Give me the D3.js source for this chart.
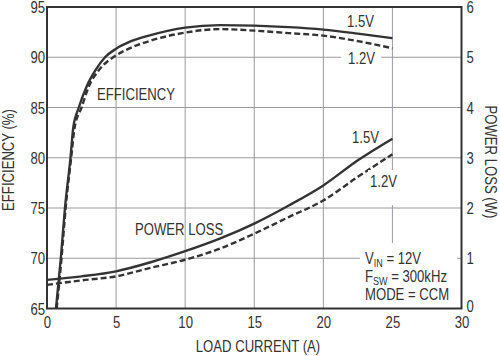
<!DOCTYPE html>
<html><head><meta charset="utf-8">
<script src="https://cdn.jsdelivr.net/npm/d3@7/dist/d3.min.js"></script>
<style>
body{margin:0;background:#fff;}
text{font-family:"Liberation Sans",Arial,sans-serif;fill:#333;}
</style></head>
<body><svg id="c" width="500" height="356"></svg>
<script>
const xTicks=[0,5,10,15,20,25,30];
const effTicks=[65,70,75,80,85,90,95];
const lossTicks=[0,1,2,3,4,5,6];
const eff15=[[0.65,65],[1.0,70],[1.3,75],[1.7,80],[1.9,83],[2.3,85],[2.9,87.2],[3.5,88.7],[4.2,90],[5,90.85],[6,91.55],[7.5,92.2],[10,92.95],[12.5,93.2],[15,93.15],[17.5,93.0],[20,92.75],[22.5,92.35],[25,91.9]];
const eff12=[[0.7,65],[1.05,70],[1.35,75],[1.75,80],[2.0,83],[2.5,85],[3.0,87],[3.8,88.8],[4.9,90.1],[6,90.9],[7.5,91.65],[10,92.45],[12.5,92.8],[15,92.65],[17.5,92.4],[20,92.15],[22.5,91.6],[25,90.9]];
const loss15=[[0,0.57],[2.5,0.64],[5,0.74],[7.5,0.92],[10,1.14],[12.5,1.39],[15,1.69],[17.5,2.05],[20,2.45],[22.5,2.95],[25,3.38]];
const loss12=[[0,0.47],[2.5,0.56],[5,0.64],[7.5,0.81],[10,0.97],[12.5,1.19],[15,1.49],[17.5,1.82],[20,2.15],[22.5,2.62],[25,3.07]];

const L=47,R=461.5,T=7,B=308.5;
const SX=0.82;
const svg=d3.select("#c");
const x=d3.scaleLinear().domain([0,30]).range([L,R]);
const yE=d3.scaleLinear().domain([65,95]).range([B,T]);
const yL=d3.scaleLinear().domain([0,6]).range([B,T]);
const col="#333";

const g=svg.append("g");
g.selectAll(".vx").data(xTicks.slice(1,-1)).join("line")
 .attr("x1",d=>x(d)).attr("x2",d=>x(d)).attr("y1",T).attr("y2",B)
 .attr("stroke","#9a9aa2").attr("stroke-width",1);
g.selectAll(".hy").data(effTicks.slice(1,-1)).join("line")
 .attr("x1",L).attr("x2",R).attr("y1",d=>yE(d)).attr("y2",d=>yE(d))
 .attr("stroke","#9a9a9a").attr("stroke-width",1);

svg.append("clipPath").attr("id","clip").append("rect").attr("x",L).attr("y",T).attr("width",R-L).attr("height",B-T);

const lineE=d3.line().x(d=>x(d[0])).y(d=>yE(d[1])).curve(d3.curveMonotoneX);
const lineL=d3.line().x(d=>x(d[0])).y(d=>yL(d[1])).curve(d3.curveMonotoneX);
const cg=svg.append("g").attr("clip-path","url(#clip)");
cg.append("path").attr("d",lineE(eff12)).attr("fill","none").attr("stroke",col).attr("stroke-width",2.4).attr("stroke-dasharray","6,3");
cg.append("path").attr("d",lineE(eff15)).attr("fill","none").attr("stroke",col).attr("stroke-width",2.4);
cg.append("path").attr("d",lineL(loss12)).attr("fill","none").attr("stroke",col).attr("stroke-width",2.4).attr("stroke-dasharray","6,3");
cg.append("path").attr("d",lineL(loss15)).attr("fill","none").attr("stroke",col).attr("stroke-width",2.4);

function bg(x0,y0,w,h){svg.append("rect").attr("x",x0).attr("y",y0).attr("width",w).attr("height",h).attr("fill","#fff");}
bg(341,50,40,16);
bg(368,170,30,35);
bg(360,243,97,65);

svg.append("rect").attr("x",L).attr("y",T).attr("width",R-L).attr("height",B-T).attr("fill","none").attr("stroke",col).attr("stroke-width",2);

const fs=16;
const ax=svg.append("g").attr("transform",`translate(0,${B})`).call(d3.axisBottom(x).tickValues(xTicks).tickSize(0).tickPadding(0).tickFormat(d3.format("d")));
ax.select(".domain").remove();
ax.selectAll("text").attr("y",null).attr("dy",null).attr("transform",`translate(0,19) scale(${SX},1)`).attr("font-size",fs).attr("fill",col).attr("font-family",null);
const ay=svg.append("g").attr("transform",`translate(${L},0)`).call(d3.axisLeft(yE).tickValues(effTicks).tickSize(0).tickPadding(0).tickFormat(d3.format("d")));
ay.select(".domain").remove();
ay.selectAll("text").attr("x",null).attr("dy","0.35em").attr("transform",`translate(-2,0) scale(${SX},1)`).attr("font-size",fs).attr("fill",col).attr("font-family",null);
const ar=svg.append("g").attr("transform",`translate(${R},0)`).call(d3.axisRight(yL).tickValues(lossTicks).tickSize(0).tickPadding(0).tickFormat(d3.format("d")));
ar.select(".domain").remove();
ar.selectAll("text").attr("x",null).attr("dy","0.35em").attr("transform",d=>`translate(5,${d===0?-3:0}) scale(${SX},1)`).attr("font-size",fs).attr("fill",col).attr("font-family",null);

function txt(s,x0,y0,anchor,rot){
  return svg.append("text").attr("transform",`translate(${x0},${y0})${rot?` rotate(${rot})`:""} scale(${SX},1)`)
    .attr("font-size",fs).attr("text-anchor",anchor||"start").text(s);
}
txt("LOAD CURRENT (A)",258,352,"middle");
txt("EFFICIENCY (%)",14,160,"middle",-90);
txt("POWER LOSS (W)",485,162,"middle",90);
txt("EFFICIENCY",97,100);
txt("POWER LOSS",135,235);
txt("1.5V",347,26.5);
txt("1.2V",348,64);
txt("1.5V",352,143);
txt("1.2V",370,186.5);
const t1=txt("V",365,264); t1.append("tspan").attr("font-size",11).attr("dy",3).text("IN"); t1.append("tspan").attr("dy",-3).text(" = 12V");
const t2=txt("F",365,282); t2.append("tspan").attr("font-size",11).attr("dy",3).text("SW"); t2.append("tspan").attr("dy",-3).text(" = 300kHz");
txt("MODE = CCM",365,300);
</script></body></html>
